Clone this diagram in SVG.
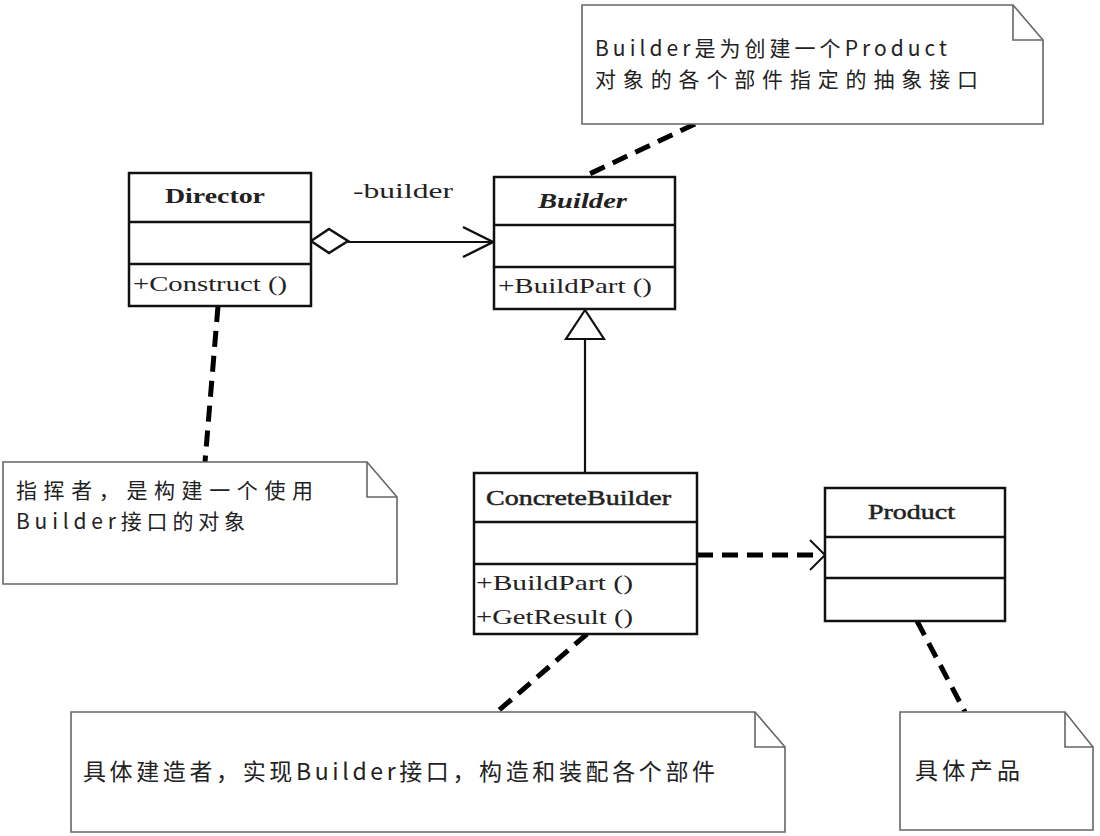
<svg xmlns="http://www.w3.org/2000/svg" width="1100" height="836" viewBox="0 0 1100 836">
<style>
.box{fill:#fff;stroke:#111;stroke-width:2.5}
.div{stroke:#111;stroke-width:2.5}
.note{fill:#fff;stroke:#666;stroke-width:1.6}
.fold{fill:none;stroke:#666;stroke-width:1.6}
.cls{font-family:"Liberation Serif","Noto Sans CJK SC",serif;font-size:22px;fill:#222}
.nm{font-weight:bold}
.nt{font-family:"Noto Sans CJK SC","Liberation Sans",sans-serif;font-size:21px;fill:#222}
.nt1{font-family:"Noto Sans CJK SC","Liberation Sans",sans-serif;font-size:23px;fill:#222}
.dash{stroke:#000;stroke-width:5;stroke-dasharray:16 9;fill:none}
.thin{stroke:#111;stroke-width:1.8;fill:none}
.head{stroke:#111;stroke-width:2.5;fill:none}
</style>
<rect width="1100" height="836" fill="#fff"/>
<g id="connectors">
  <line class="dash" x1="695" y1="124" x2="583" y2="177"/>
  <line class="dash" x1="218" y1="306" x2="205" y2="462"/>
  <line class="dash" x1="587" y1="634" x2="497" y2="712"/>
  <line class="dash" x1="917" y1="621" x2="965" y2="712"/>
  <line class="dash" x1="697" y1="555" x2="822" y2="555"/>
  <polyline class="thin" points="810,540 825,555 810,570" style="stroke-width:2"/>
  <line class="thin" x1="348" y1="242" x2="493" y2="242"/>
  <polyline class="head" points="463,227 493,242 463,257"/>
  <polygon points="311,241 329,229 348,241 329,253" fill="#fff" stroke="#111" stroke-width="2.5"/>
  <line class="thin" x1="585" y1="339" x2="585" y2="474" style="stroke-width:2.2"/>
  <polygon points="585,310 566,339 604,339" fill="#fff" stroke="#111" stroke-width="2.2"/>
  <text class="cls" x="353" y="198" textLength="100" lengthAdjust="spacingAndGlyphs">-builder</text>
</g>
<g id="director">
  <rect class="box" x="129" y="173" width="182" height="133"/>
  <line class="div" x1="129" y1="222" x2="311" y2="222"/>
  <line class="div" x1="129" y1="264" x2="311" y2="264"/>
  <text class="cls nm" x="165" y="203" textLength="100" lengthAdjust="spacingAndGlyphs">Director</text>
  <text class="cls" x="133" y="291" textLength="154" lengthAdjust="spacingAndGlyphs">+Construct ()</text>
</g>
<g id="builder">
  <rect class="box" x="494" y="177" width="181" height="132"/>
  <line class="div" x1="494" y1="225" x2="675" y2="225"/>
  <line class="div" x1="494" y1="267" x2="675" y2="267"/>
  <text class="cls nm" x="538" y="208" font-style="italic" textLength="89" lengthAdjust="spacingAndGlyphs">Builder</text>
  <text class="cls" x="498" y="293" textLength="154" lengthAdjust="spacingAndGlyphs">+BuildPart ()</text>
</g>
<g id="concretebuilder">
  <rect class="box" x="474" y="473" width="223" height="161"/>
  <line class="div" x1="474" y1="522" x2="697" y2="522"/>
  <line class="div" x1="474" y1="564" x2="697" y2="564"/>
  <text class="cls" x="486" y="505" textLength="185" lengthAdjust="spacingAndGlyphs" style="stroke:#222;stroke-width:0.5">ConcreteBuilder</text>
  <text class="cls" x="476" y="590" textLength="157" lengthAdjust="spacingAndGlyphs">+BuildPart ()</text>
  <text class="cls" x="476" y="624" textLength="157" lengthAdjust="spacingAndGlyphs">+GetResult ()</text>
</g>
<g id="product">
  <rect class="box" x="825" y="488" width="180" height="133"/>
  <line class="div" x1="825" y1="537" x2="1005" y2="537"/>
  <line class="div" x1="825" y1="578" x2="1005" y2="578"/>
  <text class="cls" x="868" y="519" textLength="87" lengthAdjust="spacingAndGlyphs" style="stroke:#222;stroke-width:0.5">Product</text>
</g>
<g id="note-builder">
  <path class="note" d="M582 5 H1013 L1043 40 V124 H582 Z"/>
  <path class="fold" d="M1013 5 V40 H1043"/>
  <text class="nt" x="595" y="56" textLength="352" lengthAdjust="spacing">Builder是为创建一个Product</text>
  <text class="nt" x="595" y="87" textLength="383" lengthAdjust="spacing">对象的各个部件指定的抽象接口</text>
</g>
<g id="note-director">
  <path class="note" d="M3 462 H367 L397 497 V584 H3 Z"/>
  <path class="fold" d="M367 462 V497 H397"/>
  <text class="nt" x="16" y="498" textLength="297" lengthAdjust="spacing">指挥者，是构建一个使用</text>
  <text class="nt" x="16" y="529" textLength="229" lengthAdjust="spacing">Builder接口的对象</text>
</g>
<g id="note-concretebuilder">
  <path class="note" d="M71 712 H755 L785 747 V832 H71 Z"/>
  <path class="fold" d="M755 712 V747 H785"/>
  <text class="nt1" x="83" y="780" textLength="632" lengthAdjust="spacing">具体建造者，实现Builder接口，构造和装配各个部件</text>
</g>
<g id="note-product">
  <path class="note" d="M900 712 H1065 L1093 747 V830 H900 Z"/>
  <path class="fold" d="M1065 712 V747 H1093"/>
  <text class="nt1" x="915" y="779" textLength="105" lengthAdjust="spacing">具体产品</text>
</g>
</svg>
